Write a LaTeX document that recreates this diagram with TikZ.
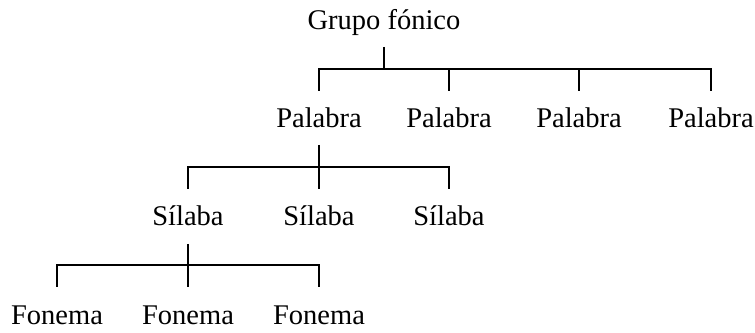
\documentclass[tikz,border=0pt]{standalone}
\usepackage{fontspec}
\setmainfont{Liberation Serif}
\begin{document}
\begin{tikzpicture}[x=1pt,y=1pt,
  lbl/.style={anchor=base,inner sep=0pt,font=\fontsize{28.5}{30}\selectfont},
  br/.style={line width=1.6pt}]
\useasboundingbox (0,0) rectangle (755,332);
% nodes (baselines)
\node[lbl] (g) at (384,302) {Grupo fónico};
\node[lbl] (p1) at (319,204) {Palabra};
\node[lbl] (p2) at (449,204) {Palabra};
\node[lbl] (p3) at (579,204) {Palabra};
\node[lbl] (p4) at (711,204) {Palabra};
\node[lbl] (s1) at (188,106) {Sílaba};
\node[lbl] (s2) at (319,106) {Sílaba};
\node[lbl] (s3) at (449,106) {Sílaba};
\node[lbl] (f1) at (57,8) {Fonema};
\node[lbl] (f2) at (188,8) {Fonema};
\node[lbl] (f3) at (319,8) {Fonema};
% Grupo -> Palabra
\draw[br] ([yshift=-17pt]g.base) -- ([yshift=-39pt]g.base);
\draw[br] ([yshift=37pt]p1.base) -- ([yshift=59pt]p1.base) -- ([yshift=59pt]p4.base) -- ([yshift=37pt]p4.base);
\draw[br] ([yshift=37pt]p2.base) -- ([yshift=59pt]p2.base);
\draw[br] ([yshift=37pt]p3.base) -- ([yshift=59pt]p3.base);
% Palabra -> Silaba
\draw[br] ([yshift=-17pt]p1.base) -- ([yshift=37pt]s2.base);
\draw[br] ([yshift=37pt]s1.base) -- ([yshift=59pt]s1.base) -- ([yshift=59pt]s3.base) -- ([yshift=37pt]s3.base);
% Silaba -> Fonema
\draw[br] ([yshift=-18pt]s1.base) -- ([yshift=37pt]f2.base);
\draw[br] ([yshift=37pt]f1.base) -- ([yshift=59pt]f1.base) -- ([yshift=59pt]f3.base) -- ([yshift=37pt]f3.base);
\end{tikzpicture}
\end{document}
